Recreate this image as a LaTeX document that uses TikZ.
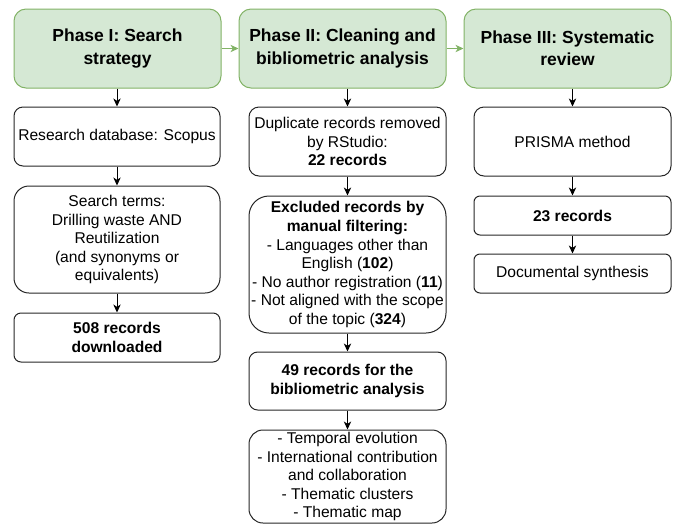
\documentclass[tikz,border=0pt]{standalone}
\usepackage{fontspec}
\setmainfont{Liberation Sans}
\usetikzlibrary{arrows.meta}
\definecolor{phfill}{HTML}{D5E8D4}
\definecolor{phdraw}{HTML}{82B366}
\begin{document}
\begin{tikzpicture}[x=0.75pt,y=-0.75pt,
  phasebox/.style={draw=phdraw, fill=phfill, line width=0.75pt, rounded corners=9pt,
    minimum width=155.25pt, minimum height=59.25pt, inner sep=0pt, align=center,
    font=\fontsize{13.1pt}{16.75pt}\selectfont\bfseries},
  flowbox/.style={draw=black!85, line width=0.75pt, inner sep=0pt, align=center,
    font=\fontsize{11.7pt}{13.9pt}\selectfont},
  colone/.style={flowbox, minimum width=154.5pt},
  coltwo/.style={flowbox, minimum width=147.75pt},
  flowarrow/.style={draw=black, line width=0.75pt, -{Stealth[length=6pt,width=5.5pt,inset=1.8pt]}},
  phasearrow/.style={draw=phdraw, line width=0.75pt, -{Stealth[length=6pt,width=5.5pt,inset=1.8pt]}}
]
\useasboundingbox (0,0) rectangle (676,526);
% Phase boxes
\node[phasebox] (p1) at (117.5,48.5) {Phase I: Search\\strategy};
\node[phasebox] (p2) at (342.5,48.5) {Phase II: Cleaning and\\bibliometric analysis};
\node[phasebox] (p3) at (567.5,48.5) {Phase III: Systematic\\review};
% Column I
\node[colone, minimum height=44.25pt, rounded corners=6.75pt] (r) at (117,136.5) {Research database: Scopus};
\node[colone, minimum height=80.25pt, rounded corners=11.25pt] (s) at (117,239.5)
  {Search terms:\\Drilling waste AND\\Reutilization\\(and synonyms or\\equivalents)};
\node[colone, minimum height=36.75pt, rounded corners=5.25pt] (d508) at (117,337.5)
  {\textbf{508 records}\\\textbf{downloaded}};
% Column II
\node[coltwo, minimum height=51.75pt, rounded corners=7.5pt] (dup) at (347.5,141.5)
  {Duplicate records removed\\by RStudio:\\\textbf{22 records}};
\node[coltwo, minimum height=102.75pt, rounded corners=15pt] (exc) at (347.5,264.5)
  {\textbf{Excluded records by}\\\textbf{manual filtering:}\\- Languages other than\\English (\textbf{102})\\\makebox[0pt]{- No author registration (\textbf{11})}\\\makebox[0pt]{- Not aligned with the scope}\\of the topic (\textbf{324})};
\node[coltwo, minimum height=43.5pt, rounded corners=6.5pt] (r49) at (347.5,381)
  {\textbf{49 records for the}\\\textbf{bibliometric analysis}};
\node[coltwo, minimum height=69.75pt, rounded corners=10.5pt] (last) at (347.5,476.5)
  {- Temporal evolution\\- International contribution\\and collaboration\\- Thematic clusters\\- Thematic map};
% Column III
\node[coltwo, minimum height=51.75pt, rounded corners=7.5pt] (prisma) at (572.5,141.5) {PRISMA method};
\node[coltwo, minimum height=29.25pt, rounded corners=4.5pt] (r23) at (572.5,215.5) {\textbf{23 records}};
\node[coltwo, minimum height=29.25pt, rounded corners=4.5pt] (doc) at (572.5,273.5) {Documental synthesis};
% Phase arrows
\draw[phasearrow] (p1) -- (p2);
\draw[phasearrow] (p2) -- (p3);
% Vertical arrows
\draw[flowarrow] (p1.south -| r.north) -- (r.north);
\draw[flowarrow] (r) -- (s);
\draw[flowarrow] (s) -- (d508);
\draw[flowarrow] (p2.south -| dup.north) -- (dup.north);
\draw[flowarrow] (dup) -- (exc);
\draw[flowarrow] (exc) -- (r49);
\draw[flowarrow] (r49) -- (last);
\draw[flowarrow] (p3.south -| prisma.north) -- (prisma.north);
\draw[flowarrow] (prisma) -- (r23);
\draw[flowarrow] (r23) -- (doc);
\end{tikzpicture}
\end{document}
